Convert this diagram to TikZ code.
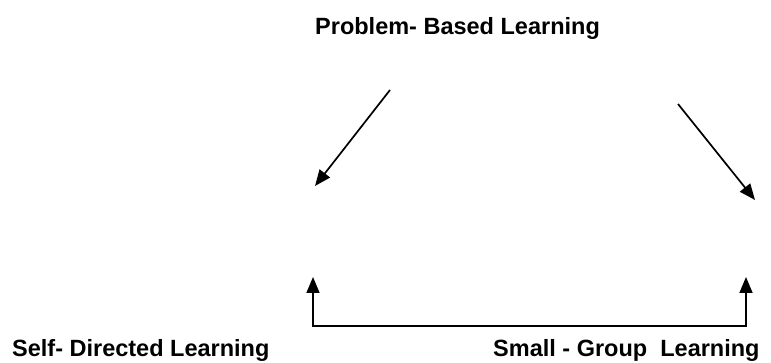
\documentclass[tikz,border=0pt]{standalone}
\usepackage{fontspec}
\setmainfont{Liberation Sans}
\usetikzlibrary{arrows.meta}
\begin{document}
\begin{tikzpicture}[x=1pt,y=-1pt,
  lbl/.style={inner sep=0pt,anchor=base west,font=\fontsize{23.5}{28}\selectfont\bfseries},
  arr/.style={line width=1.7pt,-{Triangle[length=16pt,width=13pt]}}]
\useasboundingbox (0,0) rectangle (771,363);
\node[lbl] (pbl) at (315,35) {Problem- Based Learning};
\node[lbl] (sdl) at (12,356) {Self- Directed Learning};
\node[lbl] (sgl) at (493,356) {Small - Group\ \ Learning};
\coordinate (a1s) at (390,90);
\coordinate (a1e) at (315,186);
\coordinate (a2s) at (678,104);
\coordinate (a2e) at (755,200);
\coordinate (bl) at (313,326);
\coordinate (br) at (746,326);
\coordinate (tl) at (313,277);
\coordinate (tr) at (746,277);
\draw[arr] (a1s) -- (a1e);
\draw[arr] (a2s) -- (a2e);
\draw[arr] (bl) -- (tl);
\draw[arr] (br) -- (tr);
\draw[line width=1.7pt,line cap=rect] (bl) -- (br);
\end{tikzpicture}
\end{document}
